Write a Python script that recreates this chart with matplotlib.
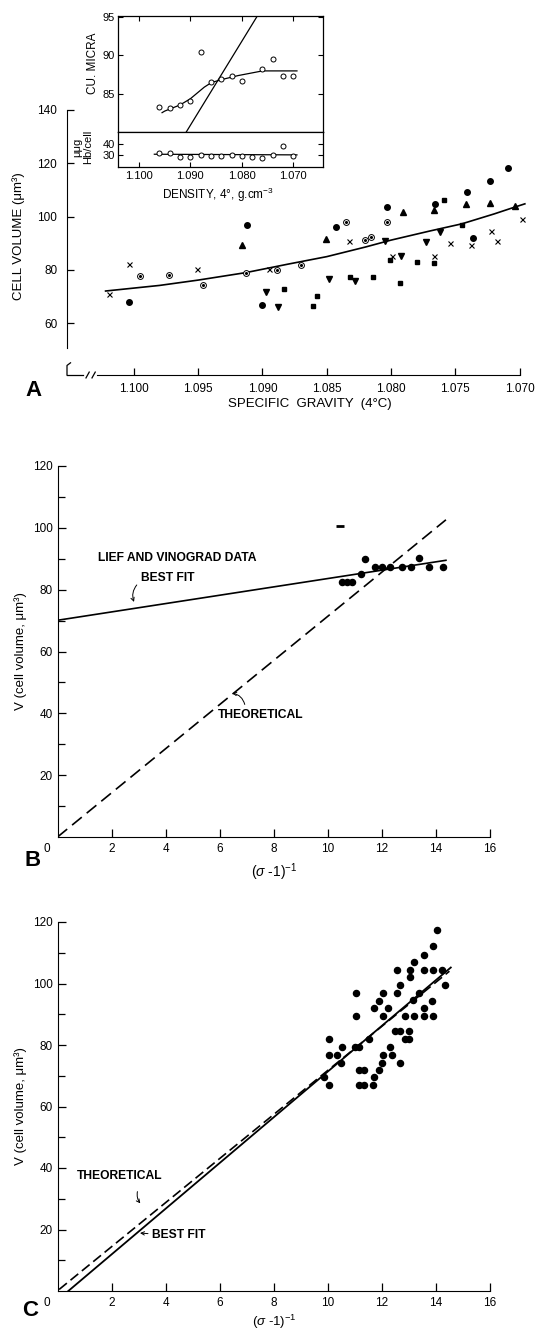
import matplotlib
matplotlib.use('Agg')
import matplotlib.pyplot as plt
import numpy as np

plt.rcParams['font.family'] = ['Liberation Sans', 'DejaVu Sans']
plt.rcParams['mathtext.fontset'] = 'custom'
plt.rcParams['mathtext.rm'] = 'Liberation Sans'
plt.rcParams['mathtext.it'] = 'Liberation Sans:italic'
plt.rcParams['mathtext.bf'] = 'Liberation Sans:bold'

W, H = 540, 1333

# ---------------- panel A : cell volume vs specific gravity
sg_dot = [1.1004, 1.0912, 1.0900, 1.0843, 1.0803, 1.0766, 1.0741, 1.0723, 1.0709, 1.0736]
vol_dot = [68.1, 97.0, 66.7, 96.0, 103.7, 104.7, 109.1, 113.3, 118.3, 92.0]
sg_ring = [1.0995, 1.0973, 1.0946, 1.0913, 1.0889, 1.0870, 1.0835, 1.0803, 1.0820, 1.0816]
vol_ring = [77.9, 78.1, 74.2, 79.0, 79.8, 81.7, 97.9, 98.0, 91.3, 92.3]
sg_up = [1.0916, 1.0851, 1.0791, 1.0767, 1.0742, 1.0723, 1.0704]
vol_up = [89.5, 91.7, 101.8, 102.4, 104.9, 105.1, 103.9]
sg_down = [1.0897, 1.0888, 1.0848, 1.0828, 1.0805, 1.0792, 1.0773, 1.0762]
vol_down = [71.7, 66.2, 76.7, 75.8, 90.8, 85.4, 90.4, 94.1]
sg_sq = [1.0883, 1.0858, 1.0861, 1.0832, 1.0814, 1.0793, 1.0801, 1.0780, 1.0767, 1.0759, 1.0745]
vol_sq = [73.0, 70.2, 66.5, 77.3, 77.2, 75.0, 83.7, 83.1, 82.7, 106.4, 96.7]
sg_x = [1.1019, 1.1004, 1.0951, 1.0895, 1.0833, 1.0799, 1.0767, 1.0754, 1.0738, 1.0722, 1.0718, 1.0698]
vol_x = [70.8, 82.3, 80.2, 80.2, 91.0, 85.4, 85.2, 90.2, 89.5, 94.5, 90.8, 99.1]
sg_fit = [1.1022, 1.0980, 1.0950, 1.0913, 1.0880, 1.0850, 1.0820, 1.0800, 1.0770,
          1.0745, 1.0720, 1.0705, 1.0696]
vol_fit = [72.1, 74.2, 76.2, 79.0, 82.2, 85.0, 88.6, 91.2, 94.6, 97.3, 101.0, 103.4, 104.8]
a_xticks = [1.100, 1.095, 1.090, 1.085, 1.080, 1.075, 1.070]
a_xlabels = ['1.100', '1.095', '1.090', '1.085', '1.080', '1.075', '1.070']
a_yticks = [60, 80, 100, 120, 140]

# inset of panel A
dens = [1.096, 1.094, 1.092, 1.090, 1.088, 1.086, 1.084, 1.082, 1.080, 1.078,
        1.076, 1.074, 1.072, 1.070]
cu_micra = [83.3, 83.2, 83.6, 84.1, 90.4, 86.6, 86.9, 87.3, 86.7, np.nan,
            88.3, 89.6, 87.4, 87.4]
hb_cell = [31.5, 31.5, 27.6, 27.6, 30.0, 29.4, 29.4, 30.0, 29.4, 27.6,
           26.7, 30.0, 38.2, 29.4]
dens_fit = [1.0955, 1.0950, 1.0920, 1.0900, 1.0873, 1.0859, 1.0838, 1.0807, 1.0760, 1.0693]
cu_fit = [82.6, 82.8, 83.6, 84.4, 85.9, 86.5, 86.9, 87.4, 88.0, 88.0]
dens_steep = [1.0908, 1.0770]
cu_steep = [80.1, 95.1]
dens_hb = [1.0970, 1.0693]
hb_fit = [30.6, 30.0]
ins_xticks = [1.100, 1.090, 1.080, 1.070]
ins_xlabels = ['1.100', '1.090', '1.080', '1.070']

# ---------------- panel B : Lief and Vinograd data
b_x = [10.52, 10.71, 10.89, 11.23, 11.39, 11.76, 12.01, 12.29, 12.73, 13.07, 13.38, 13.73, 14.25]
b_v = [82.4, 82.4, 82.4, 85.1, 89.9, 87.4, 87.4, 87.4, 87.4, 87.4, 90.1, 87.4, 87.4]
b_dash_x = [10.45]
b_dash_v = [100.5]
b_fit_x = [0, 14.37]
b_fit_v = [70.1, 89.5]
b_theo_x = [0, 14.37]
b_theo_v = [0, 102.6]

# ---------------- panel C
c_x = [14.04, 13.89, 13.54, 13.19,
       12.56, 13.05, 13.54, 13.89, 14.22,
       13.03, 12.68, 14.34,
       11.05, 12.03, 12.56, 13.36,
       11.88, 13.14, 13.85,
       11.70, 12.22, 13.54,
       11.05, 12.03, 12.87, 13.18, 13.54, 13.89,
       12.50, 12.68, 13.02,
       10.04, 11.54, 12.87, 12.99,
       10.53, 11.02, 11.14, 12.31,
       10.04, 10.34, 12.04, 12.38,
       10.47, 12.01, 12.68,
       11.17, 11.33, 11.88,
       9.85, 11.70,
       10.04, 11.14, 11.33, 11.67]
c_v = [117.4, 112.1, 109.3, 106.9,
       104.4, 104.4, 104.4, 104.4, 104.4,
       102.1, 99.6, 99.6,
       97.0, 97.0, 97.0, 97.0,
       94.3, 94.5, 94.3,
       92.0, 92.0, 92.0,
       89.3, 89.3, 89.3, 89.3, 89.3, 89.3,
       84.5, 84.5, 84.5,
       81.8, 81.8, 81.8, 81.8,
       79.3, 79.3, 79.3, 79.3,
       76.8, 76.8, 76.8, 76.8,
       74.2, 74.2, 74.2,
       71.8, 71.8, 71.8,
       69.6, 69.5,
       66.9, 66.9, 66.9, 66.9]
c_fit_x = [0.40, 14.55]
c_fit_v = [0, 105.2]
c_theo_x = [0.06, 14.5]
c_theo_v = [0.5, 104.0]

bc_xticks = [2, 4, 6, 8, 10, 12, 14, 16]
bc_yticks = [20, 40, 60, 80, 100, 120]
bc_yminor = [10, 30, 50, 70, 90, 110]


def box(l, t, r, b):
    # pixel box (left, top, right, bottom) -> figure fraction
    return [l / W, 1 - b / H, (r - l) / W, (b - t) / H]


def ftext(x, y, s, **kw):
    fig.text(x / W, 1 - y / H, s, **kw)


fig = plt.figure(figsize=(W / 100, H / 100), dpi=100)

# ---------- A
axA = fig.add_axes(box(67, 110, 530, 375))
axA.set_xlim(1.1052, 1.0692)
axA.set_ylim(40.6, 140)
for s in ('top', 'right'):
    axA.spines[s].set_visible(False)
axA.spines['left'].set_bounds(50.7, 140)
axA.spines['bottom'].set_bounds(1.1029, 1.070)
axA.set_xticks(a_xticks)
axA.set_xticklabels(a_xlabels)
axA.set_yticks(a_yticks)
axA.tick_params(direction='in', length=5, width=0.9, labelsize=8.5, pad=6)
axA.tick_params(axis='y', pad=7)

# axis breaks
brk = dict(color='k', lw=0.9, clip_on=False, transform=axA.transAxes)
axA.plot([0, 0.0346], [0, 0], **brk)
axA.plot([0.041, 0.048], [-0.011, 0.011], **brk)
axA.plot([0.054, 0.061], [-0.011, 0.011], **brk)
axA.plot([0.0076, 0, 0], [0.046, 0.036, 0], **brk)

mk = dict(ls='none', color='k', clip_on=False, zorder=3)
axA.plot(sg_fit, vol_fit, color='k', lw=1.2, zorder=2)
axA.plot(sg_dot, vol_dot, marker='o', ms=4, **mk)
axA.plot(sg_ring, vol_ring, marker='o', ms=4.2, mfc='white', mew=0.7, **mk)
axA.plot(sg_ring, vol_ring, marker='o', ms=1.2, **mk)
axA.plot(sg_up, vol_up, marker='^', ms=4.6, **mk)
axA.plot(sg_down, vol_down, marker='v', ms=4.6, **mk)
axA.plot(sg_sq, vol_sq, marker='s', ms=3.4, **mk)
axA.plot(sg_x, vol_x, marker='x', ms=3.6, mew=0.8, **mk)

ftext(19, 236, 'CELL VOLUME (μm³)', rotation=90, ha='center', va='center', fontsize=9.5)
ftext(310, 404, 'SPECIFIC  GRAVITY  (4°C)', ha='center', va='center', fontsize=9.5)
ftext(33, 391, 'A', ha='center', va='center', fontsize=16, fontweight='bold')

# ---------- inset
axI = fig.add_axes(box(118.3, 16, 322.7, 132))
axH = fig.add_axes(box(118.3, 132, 322.7, 167.3))
for ax in (axI, axH):
    ax.set_xlim(1.1040, 1.0643)
    ax.set_xticks(ins_xticks)
    for s in ax.spines.values():
        s.set_linewidth(0.9)
    ax.tick_params(direction='in', length=3.5, width=0.8, labelsize=8, pad=2.5,
                   left=True, right=True)
axI.set_ylim(80.1, 95.1)
axI.set_yticks([85, 90, 95])
axI.tick_params(axis='x', top=True, bottom=False, labelbottom=False)
axH.set_ylim(18.5, 51.2)
axH.set_yticks([30, 40])
axH.set_xticklabels(ins_xlabels)
axH.tick_params(axis='x', pad=3)

axI.plot(dens_fit, cu_fit, color='k', lw=0.9)
axI.plot(dens_steep, cu_steep, color='k', lw=0.9)
axI.plot(dens, cu_micra, ls='none', marker='o', ms=3.6, mfc='white', mec='k', mew=0.7)
axH.plot(dens_hb, hb_fit, color='k', lw=0.9)
axH.plot(dens, hb_cell, ls='none', marker='o', ms=3.6, mfc='white', mec='k', mew=0.7)

ftext(93, 63, 'CU. MICRA', rotation=90, ha='center', va='center', fontsize=8.5)
ftext(77.5, 147, 'μμg', rotation=90, ha='center', va='center', fontsize=8)
ftext(88, 147, 'Hb/cell', rotation=90, ha='center', va='center', fontsize=8)
ftext(218, 195, 'DENSITY, 4°, g.cm$^{-3}$', ha='center', va='center', fontsize=8.5)


def style_bc(ax):
    ax.set_xlim(0, 16)
    ax.set_ylim(0, 120)
    for s in ('top', 'right'):
        ax.spines[s].set_visible(False)
    ax.set_xticks(bc_xticks)
    ax.set_yticks(bc_yticks)
    ax.set_yticks(bc_yminor, minor=True)
    ax.tick_params(direction='in', length=6, width=0.9, labelsize=8.5, pad=3.5)
    ax.tick_params(axis='x', pad=4.5)
    ax.tick_params(which='minor', direction='in', length=5, width=0.9)
    ax.annotate('0', xy=(-0.4, 0), xycoords=('data', 'axes fraction'),
                xytext=(0, -4.5), textcoords='offset points',
                ha='center', va='top', fontsize=8.5)
    ax.set_ylabel('V (cell volume, μm³)', fontsize=9.5, labelpad=4)


# ---------- B
axB = fig.add_axes(box(57.5, 466, 490, 837))
style_bc(axB)
axB.plot(b_fit_x, b_fit_v, color='k', lw=1.2)
axB.plot(b_theo_x, b_theo_v, color='k', lw=1.2, ls=(0, (7.5, 3.8)))
axB.plot(b_x, b_v, ls='none', marker='o', ms=4.4, color='k', zorder=3)
axB.plot(b_dash_x, b_dash_v, ls='none', marker='_', ms=6, mew=2, color='k')
bold = dict(fontsize=8.7, fontweight='bold', va='center')
axB.text(1.50, 90.1, 'LIEF AND VINOGRAD DATA', **bold)
axB.text(3.09, 83.7, 'BEST FIT', **bold)
axB.text(5.95, 39.6, 'THEORETICAL', **bold)
arw = dict(arrowstyle='->', lw=0.7, color='k', mutation_scale=6)
axB.annotate('', xy=(2.87, 75.2), xytext=(3.0, 82.2),
             arrowprops=dict(connectionstyle='arc3,rad=0.35', **arw))
axB.annotate('', xy=(6.36, 46.6), xytext=(6.95, 42.0),
             arrowprops=dict(connectionstyle='arc3,rad=0.4', **arw))
ftext(274, 872, '($\\sigma$ -1)$^{-1}$', ha='center', va='center', fontsize=10)
ftext(33, 860, 'B', ha='center', va='center', fontsize=16, fontweight='bold')

# ---------- C
axC = fig.add_axes(box(57.5, 922, 490, 1291))
style_bc(axC)
axC.plot(c_theo_x, c_theo_v, color='k', lw=1.2, ls=(0, (6, 2.8)))
axC.plot(c_fit_x, c_fit_v, color='k', lw=1.3)
axC.plot(c_x, c_v, ls='none', marker='o', ms=4.4, color='k', zorder=3)
axC.text(0.70, 37.5, 'THEORETICAL', **bold)
axC.text(3.51, 18.2, 'BEST FIT', **bold)
axC.annotate('', xy=(3.13, 27.8), xytext=(2.98, 33.2),
             arrowprops=dict(connectionstyle='arc3,rad=0.3', **arw))
axC.annotate('', xy=(2.95, 18.9), xytext=(3.45, 18.6), arrowprops=arw)
ftext(274, 1331, '($\\sigma$ -1)$^{-1}$', ha='center', va='bottom', fontsize=9.5)
ftext(30, 1310, 'C', ha='center', va='center', fontsize=16, fontweight='bold')

fig.savefig('out.png', dpi=100)
